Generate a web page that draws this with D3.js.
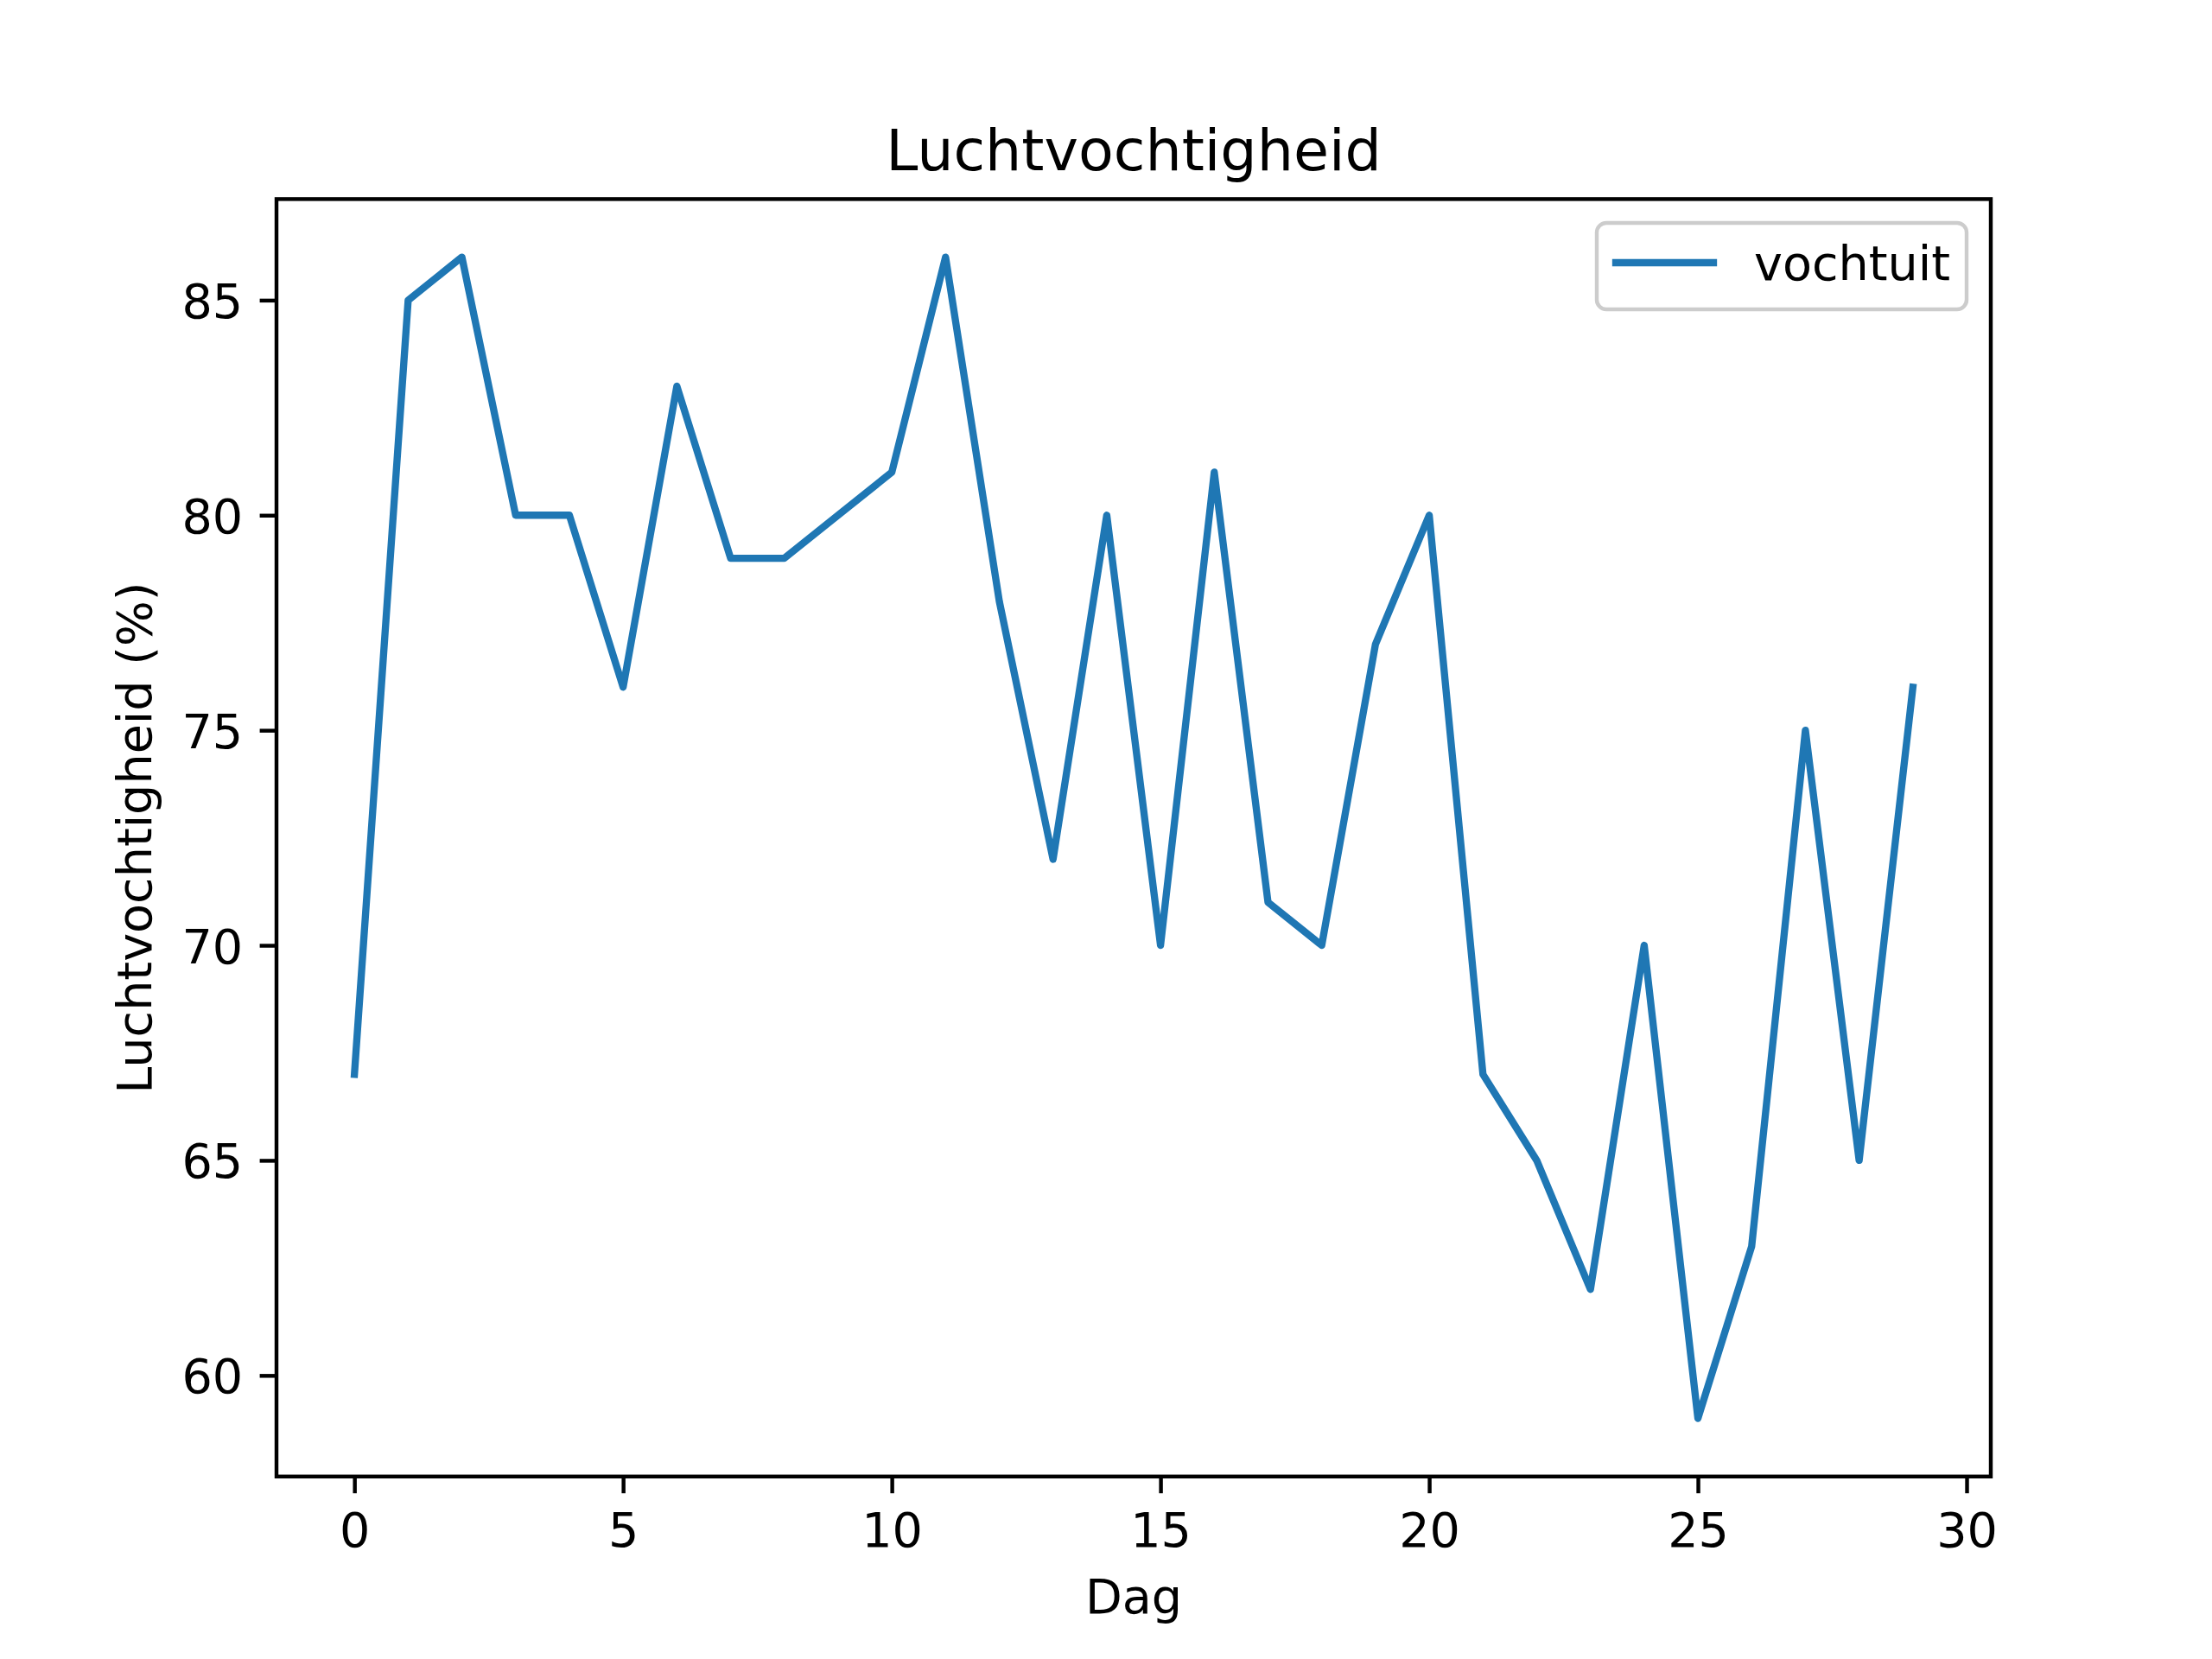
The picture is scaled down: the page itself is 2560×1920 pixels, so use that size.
<!DOCTYPE html>
<html lang="nl">
<head>
  <meta charset="UTF-8">
  <title>Luchtvochtigheid</title>
  <script src="https://d3js.org/d3.v7.min.js"></script>
  <style>
    body { margin: 0; background: #fff; }
    svg { display: block; }
    text { font-family: "DejaVu Sans", sans-serif; fill: #000; }
    .tick line { stroke: #000; stroke-width: 4.44; }
  </style>
</head>
<body>
<svg></svg>
<script>
// === Data ===
const days = d3.range(0, 30);
const vochtuit = [67, 85, 86, 80, 80, 76, 83, 79, 79, 80,
                  81, 86, 78, 72, 80, 70, 81, 71, 70, 77,
                  80, 67, 65, 62, 70, 59, 63, 75, 65, 76];
const xTicks = [0, 5, 10, 15, 20, 25, 30];
const yTicks = [60, 65, 70, 75, 80, 85];
const seriesName = "vochtuit";

const W = 2560, H = 1920;
const m = { left: 320, right: 2304, top: 230.4, bottom: 1708.8 };
const fs = 55.6;       // 10pt at 400 dpi
const tick = 19.4, pad = 19.4;
const blue = "#1f77b4";

const svg = d3.select("svg").attr("width", W).attr("height", H);

// matplotlib style 5% margins
const xExt = d3.extent(days), yExt = d3.extent(vochtuit);
const xm = (xExt[1] - xExt[0]) * 0.05, ym = (yExt[1] - yExt[0]) * 0.05;
const x = d3.scaleLinear().domain([xExt[0] - xm, xExt[1] + xm]).range([m.left, m.right]);
const y = d3.scaleLinear().domain([yExt[0] - ym, yExt[1] + ym]).range([m.bottom, m.top]);

// === Line ===
const line = d3.line().x((d, i) => x(days[i])).y(d => y(d));
svg.append("path")
  .datum(vochtuit)
  .attr("d", line)
  .attr("fill", "none")
  .attr("stroke", blue)
  .attr("stroke-width", 8.33)
  .attr("stroke-linejoin", "round")
  .attr("stroke-linecap", "square");

// === Axes ===
const gx = svg.append("g")
  .attr("transform", `translate(0,${m.bottom})`)
  .call(d3.axisBottom(x).tickValues(xTicks).tickFormat(d3.format("d"))
    .tickSizeInner(tick).tickSizeOuter(0).tickPadding(pad));
gx.select(".domain").remove();
gx.selectAll("text").attr("font-size", fs).attr("dy", "0.76em");

const gy = svg.append("g")
  .attr("transform", `translate(${m.left},0)`)
  .call(d3.axisLeft(y).tickValues(yTicks).tickFormat(d3.format("d"))
    .tickSizeInner(tick).tickSizeOuter(0).tickPadding(pad));
gy.select(".domain").remove();
gy.selectAll("text").attr("font-size", fs).attr("dy", "0.36em");
svg.selectAll(".tick text").style("font-family", "DejaVu Sans");

// frame
svg.append("rect")
  .attr("x", m.left).attr("y", m.top)
  .attr("width", m.right - m.left).attr("height", m.bottom - m.top)
  .attr("fill", "none").attr("stroke", "#000").attr("stroke-width", 4.44);

// === Labels ===
const cx = (m.left + m.right) / 2;
svg.append("text").attr("x", cx).attr("y", 197)
  .attr("text-anchor", "middle").attr("font-size", 66.7).text("Luchtvochtigheid");
svg.append("text").attr("x", cx).attr("y", 1867)
  .attr("text-anchor", "middle").attr("font-size", fs).text("Dag");
svg.append("text")
  .attr("transform", `translate(175,${(m.top + m.bottom) / 2}) rotate(-90)`)
  .attr("text-anchor", "middle").attr("font-size", fs).text("Luchtvochtigheid (%)");

// === Legend ===
const lg = svg.append("g");
lg.append("rect")
  .attr("x", 1848).attr("y", 258).attr("width", 428).attr("height", 100)
  .attr("rx", 11).attr("ry", 11)
  .attr("fill", "#fff").attr("fill-opacity", 0.8)
  .attr("stroke", "#cccccc").attr("stroke-width", 4.44);
lg.append("line")
  .attr("x1", 1870).attr("x2", 1983).attr("y1", 304).attr("y2", 304)
  .attr("stroke", blue).attr("stroke-width", 8.33).attr("stroke-linecap", "square");
lg.append("text").attr("x", 2030).attr("y", 304).attr("dy", "0.36em")
  .attr("font-size", fs).text(seriesName);
</script>
</body>
</html>
